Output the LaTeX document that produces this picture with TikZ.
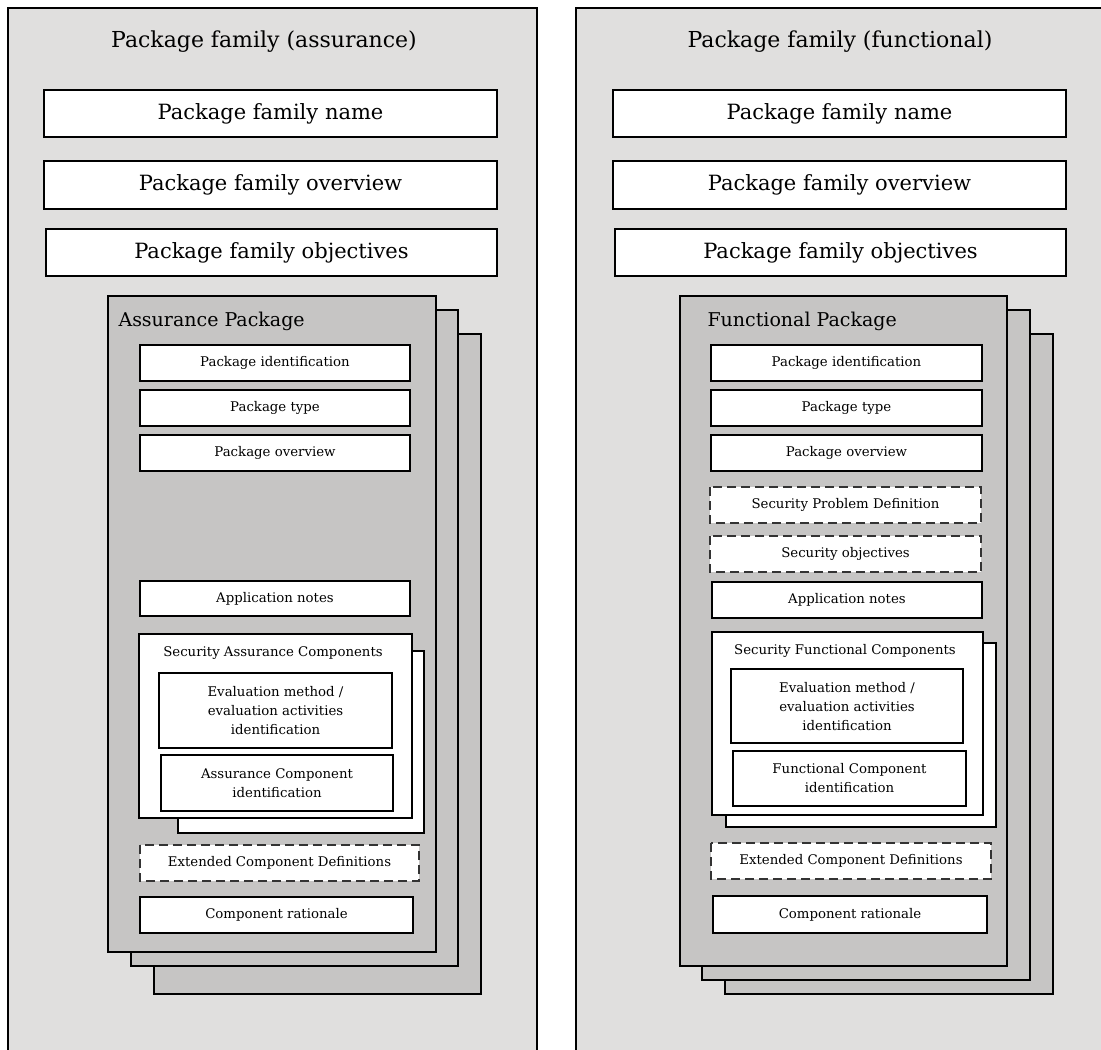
\documentclass[tikz,border=0pt]{standalone}
\usepackage{fontspec}
\setmainfont{DejaVu Serif}
\usetikzlibrary{positioning}
\definecolor{famgray}{HTML}{E0DFDE}
\definecolor{pkggray}{HTML}{C6C5C4}

\begin{document}
\begin{tikzpicture}[x=1pt, y=-1pt, line join=miter,
  panel/.style={draw, line width=2.8pt, fill=famgray},
  pkg/.style={draw, line width=2.8pt, fill=pkggray},
  card/.style={draw, line width=2.8pt, fill=white},
  optcard/.style={draw=black!80, line width=2.8pt, fill=white, dash pattern=on 9pt off 5pt},
  big/.style={font=\fontsize{21}{25}\selectfont},
  title/.style={font=\fontsize{22}{26}\selectfont},
  pkglabel/.style={font=\fontsize{19}{22}\selectfont, anchor=west},
  small/.style={font=\fontsize{13.3}{19}\selectfont, align=center}]
\useasboundingbox (0,0) rectangle (1101,1050);
% Assurance family panel
\draw[panel] (8,8) rectangle (537,1060);
\node[title] (atitle) at (264,42) {Package family (assurance)};
\draw[card] (44,90) rectangle (497,137);
\node[big] (aname) at (270.5,113.5) {Package family name};
\draw[card] (44,161) rectangle (497,209);
\node[big] (aover) at (270.5,185) {Package family overview};
\draw[card] (46,229) rectangle (497,276);
\node[big] (aobj) at (271.5,252.5) {Package family objectives};
% Assurance package stack
\draw[pkg] (154,334) rectangle (481,994);
\draw[pkg] (131,310) rectangle (458,966);
\draw[pkg] (108,296) rectangle (436,952);
\node[pkglabel] (apkg) at (115,321) {Assurance Package};
\draw[card] (140,345) rectangle (410,381);
\node[small] (aid) at (275,363) {Package identification};
\draw[card] (140,390) rectangle (410,426);
\node[small] (atype) at (275,408) {Package type};
\draw[card] (140,435) rectangle (410,471);
\node[small] (apover) at (275,453) {Package overview};
\draw[card] (140,581) rectangle (410,616);
\node[small] (anotes) at (275,598.5) {Application notes};
% Security assurance components
\draw[card] (178,651) rectangle (424,833);
\draw[card] (139,634) rectangle (412,818);
\node[small] (asac) at (273,653) {Security Assurance Components};
\draw[card] (159,673) rectangle (392,748);
\node[small] (aeval) at (275.5,711) {Evaluation method /\\evaluation activities\\identification};
\draw[card] (161,755) rectangle (393,811);
\node[small] (acomp) at (277,783) {Assurance Component\\identification};
\draw[optcard] (140,845) rectangle (419,881);
\node[small] (aext) at (279.5,863) {Extended Component Definitions};
\draw[card] (140,897) rectangle (413,933);
\node[small] (arat) at (276.5,915) {Component rationale};

% Functional family panel
\draw[panel] (576,8) rectangle (1110,1060);
\node[title] (ftitle) at (840,42) {Package family (functional)};
\draw[card] (613,90) rectangle (1066,137);
\node[big] (fname) at (839.5,113.5) {Package family name};
\draw[card] (613,161) rectangle (1066,209);
\node[big] (fover) at (839.5,185) {Package family overview};
\draw[card] (615,229) rectangle (1066,276);
\node[big] (fobj) at (840.5,252.5) {Package family objectives};
% Functional package stack
\draw[pkg] (725,334) rectangle (1053,994);
\draw[pkg] (702,310) rectangle (1030,980);
\draw[pkg] (680,296) rectangle (1007,966);
\node[pkglabel] (fpkg) at (704,321) {Functional Package};
\draw[card] (711,345) rectangle (982,381);
\node[small] (fid) at (846.5,363) {Package identification};
\draw[card] (711,390) rectangle (982,426);
\node[small] (ftype) at (846.5,408) {Package type};
\draw[card] (711,435) rectangle (982,471);
\node[small] (fpover) at (846.5,453) {Package overview};
\draw[optcard] (710,487) rectangle (981,523);
\node[small] (fspd) at (845.5,505) {Security Problem Definition};
\draw[optcard] (710,536) rectangle (981,572);
\node[small] (fsobj) at (845.5,554) {Security objectives};
\draw[card] (712,582) rectangle (982,618);
\node[small] (fnotes) at (847,600) {Application notes};
% Security functional components
\draw[card] (726,643) rectangle (996,827);
\draw[card] (712,632) rectangle (983,815);
\node[small] (fsfc) at (845,651) {Security Functional Components};
\draw[card] (731,669) rectangle (963,743);
\node[small] (feval) at (847,706.5) {Evaluation method /\\evaluation activities\\identification};
\draw[card] (733,751) rectangle (966,806);
\node[small] (fcomp) at (849.5,778.5) {Functional Component\\identification};
\draw[optcard] (711,843) rectangle (991,879);
\node[small] (fext) at (851,861) {Extended Component Definitions};
\draw[card] (713,896) rectangle (987,933);
\node[small] (frat) at (850,914.5) {Component rationale};
\end{tikzpicture}
\end{document}
